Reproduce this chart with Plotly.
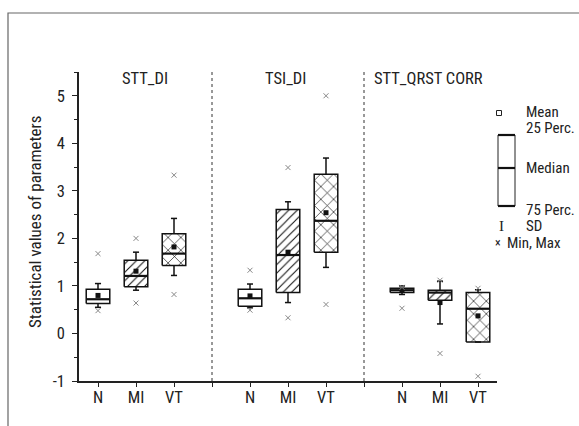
import plotly.graph_objects as go

# ---------------- data ----------------
params = ["STT_DI", "TSI_DI", "STT_QRST CORR"]
groups = ["N", "MI", "VT"]

q1 = [[0.63, 0.98, 1.43], [0.57, 0.86, 1.71], [0.86, 0.70, -0.18]]
median = [[0.72, 1.21, 1.68], [0.74, 1.65, 2.37], [0.91, 0.86, 0.52]]
q3 = [[0.93, 1.54, 2.10], [0.93, 2.61, 3.35], [0.95, 0.91, 0.86]]
mean = [[0.80, 1.31, 1.82], [0.79, 1.71, 2.54], [0.91, 0.65, 0.37]]
sd = [[0.25, 0.40, 0.60], [0.25, 1.06, 1.15], [0.09, 0.45, 0.55]]
vmin = [[0.48, 0.64, 0.82], [0.49, 0.33, 0.61], [0.53, -0.42, -0.90]]
vmax = [[1.68, 2.00, 3.33], [1.33, 3.49, 5.00], [0.97, 1.12, 0.95]]

y_ticks = [-1, 0, 1, 2, 3, 4, 5]
y_ticktext = ["-1", "0", "1", "2", "3", "4", "5"]
y_title = "Statistical values of parameters"
legend_labels = ["Mean", "25 Perc.", "Median", "75 Perc.", "SD", "Min, Max"]

# ---------------- style ----------------
FONT = "Roboto Condensed, Liberation Sans Narrow, DejaVu Sans Condensed, sans-serif"
FS = 16.5
LFS = 15
W, H = 579, 426
L, R, T, B = 79, 497, 72, 381  # plot area in pixels
HALF = 0.31   # half box width (category units)
CAP = 0.08    # half cap width
patterns = ["", "/", "x"]
pat_size = [8, 6, 9]
pat_sol = [0.1, 0.18, 0.14]


def px_x(x):
    return (x - L) / (R - L)


def px_y(y):
    return (B - y) / (B - T)


fig = go.Figure()

positions = []
for gi in range(len(params)):
    for ci in range(len(groups)):
        p = gi * 4 + ci + 1
        positions.append((gi, ci, p))

# boxes
for gi, ci, p in positions:
    lo, hi = q1[gi][ci], q3[gi][ci]
    fp = dict(shape=patterns[ci], fgcolor="#111", bgcolor="white",
              size=pat_size[ci], solidity=pat_sol[ci], fillmode="replace")
    fig.add_trace(go.Scatter(
        x=[p - HALF, p + HALF, p + HALF, p - HALF, p - HALF],
        y=[lo, lo, hi, hi, lo],
        mode="lines", fill="toself", fillcolor="white",
        fillpattern=fp if patterns[ci] else None,
        line=dict(color="#111", width=1.5),
        hoverinfo="skip", showlegend=False))

# medians
mx, my = [], []
for gi, ci, p in positions:
    mx += [p - HALF, p + HALF, None]
    my += [median[gi][ci]] * 2 + [None]
fig.add_trace(go.Scatter(x=mx, y=my, mode="lines",
                         line=dict(color="#111", width=2.2),
                         hoverinfo="skip", showlegend=False))

# SD whiskers (only the parts outside the box) + caps
wx, wy = [], []
for gi, ci, p in positions:
    top = mean[gi][ci] + sd[gi][ci]
    bot = mean[gi][ci] - sd[gi][ci]
    if top > q3[gi][ci]:
        wx += [p, p, None]
        wy += [q3[gi][ci], top, None]
    if bot < q1[gi][ci]:
        wx += [p, p, None]
        wy += [q1[gi][ci], bot, None]
    wx += [p - CAP, p + CAP, None, p - CAP, p + CAP, None]
    wy += [top, top, None, bot, bot, None]
fig.add_trace(go.Scatter(x=wx, y=wy, mode="lines",
                         line=dict(color="#111", width=1.5),
                         hoverinfo="skip", showlegend=False))

# means
fig.add_trace(go.Scatter(
    x=[p for _, _, p in positions],
    y=[mean[gi][ci] for gi, ci, _ in positions],
    mode="markers",
    marker=dict(symbol="square", size=5, color="#111"),
    hoverinfo="skip", showlegend=False))

# min / max
fig.add_trace(go.Scatter(
    x=[p for _, _, p in positions] * 2,
    y=[vmin[gi][ci] for gi, ci, _ in positions] + [vmax[gi][ci] for gi, ci, _ in positions],
    mode="markers",
    marker=dict(symbol="x-thin", size=5, line=dict(color="#888", width=1)),
    hoverinfo="skip", showlegend=False))

# ---------------- axes ----------------
tickvals = list(range(1, 12))
ticktext = []
for gi in range(len(params)):
    ticktext += groups
    if gi < len(params) - 1:
        ticktext.append("")

fig.update_xaxes(range=[0.5, 11.5], tickvals=tickvals, ticktext=ticktext,
                 showline=True, linecolor="#222", linewidth=1.5,
                 ticks="outside", ticklen=4, tickwidth=1.2, tickcolor="#222",
                 ticklabelstandoff=-4,
                 showgrid=False, zeroline=False,
                 tickfont=dict(family=FONT, size=FS, color="#222"))
fig.update_yaxes(range=[-1, 5.5], tickvals=y_ticks, ticktext=y_ticktext,
                 showline=True, linecolor="#222", linewidth=1.5,
                 ticks="outside", ticklen=5, tickwidth=1.2, tickcolor="#222",
                 minor=dict(dtick=0.5, tick0=0, ticks="outside", ticklen=3,
                            tickwidth=1.2, tickcolor="#222"),
                 ticklabelstandoff=4,
                 showgrid=False, zeroline=False,
                 tickfont=dict(family=FONT, size=FS, color="#222"))

shapes = []
# outer frame
shapes.append(dict(type="rect", xref="paper", yref="paper",
                   x0=px_x(8), x1=px_x(640), y0=px_y(500), y1=px_y(13),
                   line=dict(color="#666", width=1.2), layer="below"))
# group separators
for sx in [4, 8]:
    shapes.append(dict(type="line", xref="x", yref="paper",
                       x0=sx, x1=sx, y0=0, y1=px_y(70),
                       line=dict(color="#333", width=1, dash="dot")))

annotations = []
title_px = [145, 285, 428]
for name, tx in zip(params, title_px):
    annotations.append(dict(text=name, xref="paper", yref="paper",
                            x=px_x(tx), y=px_y(78), showarrow=False,
                            xanchor="center", yanchor="middle",
                            font=dict(family=FONT, size=FS, color="#222")))
annotations.append(dict(text=y_title, xref="paper", yref="paper",
                        x=px_x(35), y=px_y(222), textangle=-90, showarrow=False,
                        xanchor="center", yanchor="middle",
                        font=dict(family=FONT, size=17, color="#222")))

# ---------------- custom legend ----------------
# mean symbol (hollow square)
shapes.append(dict(type="rect", xref="paper", yref="paper",
                   x0=px_x(496.5), x1=px_x(501.5), y0=px_y(115.5), y1=px_y(110.5),
                   line=dict(color="#222", width=1), fillcolor="white"))
# box symbol
shapes.append(dict(type="rect", xref="paper", yref="paper",
                   x0=px_x(498), x1=px_x(515), y0=px_y(206), y1=px_y(135),
                   line=dict(color="#222", width=1), fillcolor="white"))
for ly in [135, 168, 206]:
    shapes.append(dict(type="line", xref="paper", yref="paper",
                       x0=px_x(498), x1=px_x(515), y0=px_y(ly), y1=px_y(ly),
                       line=dict(color="#111", width=2.2)))

leg_pos = [(524, 112), (524, 128), (524, 168), (524, 210), (524, 226), (505, 243)]
for txt, (lx, ly) in zip(legend_labels, leg_pos):
    annotations.append(dict(text=txt, xref="paper", yref="paper",
                            x=px_x(lx), y=px_y(ly), showarrow=False,
                            xanchor="left", yanchor="middle",
                            font=dict(family=FONT, size=LFS, color="#222")))
annotations.append(dict(text="I", xref="paper", yref="paper",
                        x=px_x(502), y=px_y(226), showarrow=False,
                        xanchor="center", yanchor="middle",
                        font=dict(family="Liberation Serif, serif", size=15, color="#222")))
annotations.append(dict(text="×", xref="paper", yref="paper",
                        x=px_x(498), y=px_y(243), showarrow=False,
                        xanchor="center", yanchor="middle",
                        font=dict(family=FONT, size=12, color="#222")))

fig.update_layout(width=W, height=H, autosize=False,
                  margin=dict(l=L, r=W - R, t=T, b=H - B, pad=0),
                  paper_bgcolor="white", plot_bgcolor="white",
                  shapes=shapes, annotations=annotations,
                  showlegend=False, font=dict(family=FONT, size=FS))

fig.write_html("out.html", config={"displayModeBar": False},
               post_script="document.body.style.margin='0px';document.body.style.overflow='hidden';")
